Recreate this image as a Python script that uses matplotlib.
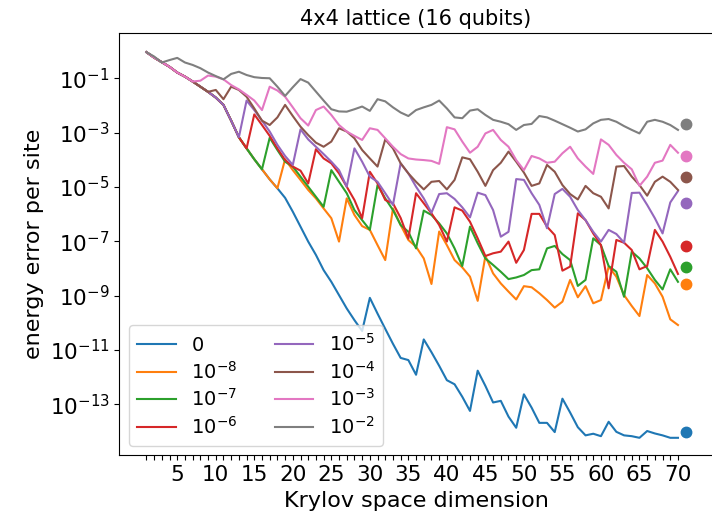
import numpy as np
import matplotlib
matplotlib.use("Agg")
import matplotlib.pyplot as plt
from matplotlib.ticker import NullLocator, FixedLocator

# Krylov space dimension
x = np.arange(1, 71)
x_final = 71

labels = ['0', r'$10^{-8}$', r'$10^{-7}$', r'$10^{-6}$',
          r'$10^{-5}$', r'$10^{-4}$', r'$10^{-3}$', r'$10^{-2}$']

# log10 of energy error per site
err0 = [-0.04, -0.24, -0.41, -0.58, -0.79, -0.94, -1.12, -1.31, -1.50, -1.71,
        -1.98, -2.56, -3.17, -3.58, -3.98, -4.35, -4.72, -5.05, -5.40, -5.91,
        -6.46, -7.01, -7.50, -8.06, -8.49, -8.98, -9.47, -9.90, -10.30, -9.08,
        -9.66, -10.22, -10.77, -11.29, -11.37, -11.91, -10.61, -11.08, -11.58, -12.11,
        -12.26, -12.72, -13.24, -11.76, -12.32, -12.93, -12.87, -13.45, -13.86, -12.63,
        -13.12, -13.68, -13.68, -14.02, -12.79, -13.30, -13.84, -14.14, -14.08, -14.17,
        -13.64, -14.01, -14.14, -14.17, -14.23, -13.98, -14.07, -14.14, -14.23, -14.23]

err1e8 = [-0.04, -0.24, -0.41, -0.58, -0.79, -0.94, -1.12, -1.31, -1.50, -1.71,
          -1.98, -2.56, -3.17, -3.58, -3.98, -4.35, -4.72, -5.05, -3.98, -4.38,
          -4.74, -5.11, -5.42, -5.79, -6.15, -7.01, -5.42, -6.03, -6.44, -6.58,
          -7.14, -7.69, -5.79, -6.40, -6.95, -7.20, -7.63, -8.57, -6.64, -7.14,
          -7.69, -7.96, -8.30, -9.19, -7.54, -8.18, -8.55, -8.85, -9.14, -8.65,
          -8.69, -8.91, -9.16, -9.44, -9.22, -8.42, -9.06, -8.65, -9.28, -9.16,
          -7.93, -8.30, -8.98, -9.38, -9.75, -8.24, -8.55, -9.04, -9.87, -10.08]

err1e7 = [-0.04, -0.24, -0.41, -0.58, -0.79, -0.94, -1.12, -1.31, -1.50, -1.71,
          -1.98, -2.56, -3.17, -3.58, -3.98, -4.35, -3.19, -3.64, -4.07, -4.25,
          -4.62, -4.99, -5.36, -5.73, -4.38, -4.81, -5.23, -5.85, -6.22, -6.58,
          -4.93, -5.42, -5.85, -6.40, -6.65, -7.26, -5.87, -6.03, -6.34, -6.71,
          -7.26, -7.91, -6.46, -7.07, -7.63, -7.87, -8.12, -8.39, -8.33, -8.24,
          -8.06, -8.03, -7.26, -7.17, -7.47, -7.69, -8.64, -8.42, -6.89, -7.14,
          -7.91, -8.12, -9.04, -7.38, -7.63, -7.99, -8.42, -8.77, -8.03, -8.49]

err1e6 = [-0.04, -0.24, -0.41, -0.58, -0.79, -0.94, -1.12, -1.31, -1.50, -1.71,
          -1.98, -2.56, -3.17, -3.58, -2.33, -2.72, -3.12, -3.58, -4.01, -4.25,
          -4.40, -4.87, -3.61, -3.95, -4.13, -4.50, -4.99, -5.48, -6.15, -4.44,
          -4.87, -5.48, -5.60, -6.14, -6.90, -5.23, -5.60, -5.97, -6.40, -7.01,
          -5.75, -5.87, -6.28, -6.89, -7.54, -7.44, -7.38, -7.01, -7.79, -7.32,
          -5.99, -5.99, -6.46, -6.77, -8.08, -7.93, -5.97, -6.22, -6.71, -7.14,
          -8.73, -6.95, -7.05, -7.32, -8.03, -7.91, -6.58, -7.01, -7.57, -8.20]

err1e5 = [-0.04, -0.24, -0.41, -0.58, -0.79, -0.94, -1.12, -1.31, -1.50, -1.71,
          -1.98, -2.56, -3.17, -1.82, -2.17, -2.56, -2.96, -3.45, -3.86, -4.19,
          -2.88, -3.25, -3.52, -3.79, -4.07, -4.38, -4.99, -3.58, -4.07, -4.62,
          -4.81, -5.23, -5.66, -4.13, -4.50, -4.99, -5.42, -5.95, -5.26, -5.23,
          -5.44, -5.75, -6.12, -5.21, -5.30, -5.85, -6.83, -6.65, -4.71, -4.74,
          -5.23, -5.66, -6.52, -5.26, -5.07, -5.36, -5.85, -6.22, -6.65, -7.01,
          -6.58, -6.73, -7.05, -5.22, -5.21, -5.66, -6.15, -6.71, -5.57, -5.15]

err1e4 = [-0.04, -0.24, -0.41, -0.58, -0.79, -0.94, -1.12, -1.31, -1.50, -1.43,
          -1.77, -1.31, -1.43, -1.68, -2.11, -2.56, -2.72, -2.44, -1.98, -2.39,
          -2.78, -3.09, -3.37, -3.52, -3.33, -2.84, -2.96, -3.21, -3.64, -3.95,
          -4.25, -3.25, -3.58, -4.13, -4.50, -4.81, -5.09, -4.81, -4.78, -5.09,
          -4.74, -3.91, -3.98, -4.44, -4.96, -4.38, -4.11, -3.70, -4.07, -4.47,
          -4.96, -4.87, -4.19, -4.44, -4.93, -5.26, -5.46, -4.96, -5.23, -5.36,
          -5.79, -4.25, -4.23, -4.62, -4.93, -5.32, -4.81, -4.62, -4.81, -5.11]

err1e3 = [-0.04, -0.24, -0.41, -0.58, -0.79, -0.94, -1.12, -1.09, -0.90, -0.94,
          -1.04, -1.25, -1.41, -1.61, -1.82, -2.17, -1.31, -1.45, -1.68, -2.07,
          -2.47, -2.74, -2.17, -2.04, -2.35, -2.72, -2.96, -3.12, -3.27, -2.84,
          -2.90, -3.21, -3.52, -3.79, -3.95, -3.99, -4.01, -4.04, -4.15, -2.80,
          -2.88, -3.33, -3.74, -3.52, -3.03, -2.90, -3.27, -3.52, -4.01, -4.38,
          -3.86, -3.95, -4.11, -4.07, -3.76, -3.52, -3.95, -4.25, -4.52, -3.25,
          -3.45, -3.82, -4.11, -4.35, -4.96, -4.62, -4.11, -4.03, -3.45, -3.74]

err1e2 = [-0.04, -0.20, -0.42, -0.33, -0.25, -0.42, -0.51, -0.63, -0.79, -0.92,
          -1.04, -0.84, -0.76, -0.88, -0.96, -0.99, -1.00, -1.31, -1.65, -1.33,
          -1.03, -1.16, -1.49, -1.82, -2.14, -2.22, -2.23, -2.14, -2.04, -2.20,
          -1.77, -1.85, -2.07, -2.26, -2.39, -2.17, -2.07, -1.98, -1.82, -2.11,
          -2.44, -2.47, -2.19, -2.14, -2.35, -2.53, -2.60, -2.69, -2.90, -2.72,
          -2.68, -2.39, -2.44, -2.56, -2.69, -2.82, -2.96, -2.88, -2.66, -2.53,
          -2.50, -2.60, -2.76, -2.90, -3.03, -2.60, -2.53, -2.60, -2.72, -2.90]

# final (converged) values shown as dots
final_vals = [-14.01, -8.57, -7.96, -7.17, -5.60, -4.64, -3.86, -2.68]

series = [err0, err1e8, err1e7, err1e6, err1e5, err1e4, err1e3, err1e2]

fig = plt.figure(figsize=(7.12, 5.19), dpi=100)
ax = fig.add_axes([0.1678, 0.1224, 0.8331, 0.8141])

for i, (s, lab) in enumerate(zip(series, labels)):
    ax.plot(x, 10.0 ** np.array(s), '-', color='C%d' % i, lw=1.5, label=lab)
for i, v in enumerate(final_vals):
    ax.plot([x_final], [10.0 ** v], 'o', color='C%d' % i, ms=7.5)

ax.set_yscale('log')
ax.set_xlim(-2.5, 74.5)
ax.set_ylim(10 ** -14.88, 10 ** 0.667)
ax.yaxis.set_major_locator(FixedLocator([10.0 ** -k for k in range(1, 14, 2)]))
ax.yaxis.set_minor_locator(NullLocator())

ax.set_xticks(x)
ax.set_xticklabels([str(v) if v % 5 == 0 else '' for v in x])
ax.tick_params(labelsize=15.5)

ax.set_xlabel('Krylov space dimension', fontsize=16)
ax.set_ylabel('energy error per site', fontsize=16)
ax.set_title('4x4 lattice (16 qubits)', fontsize=15)
ax.legend(loc='lower left', ncol=2, fontsize=14, labelspacing=0.3,
          handlelength=2.0, columnspacing=1.9)

fig.savefig('out.png', dpi=100)
